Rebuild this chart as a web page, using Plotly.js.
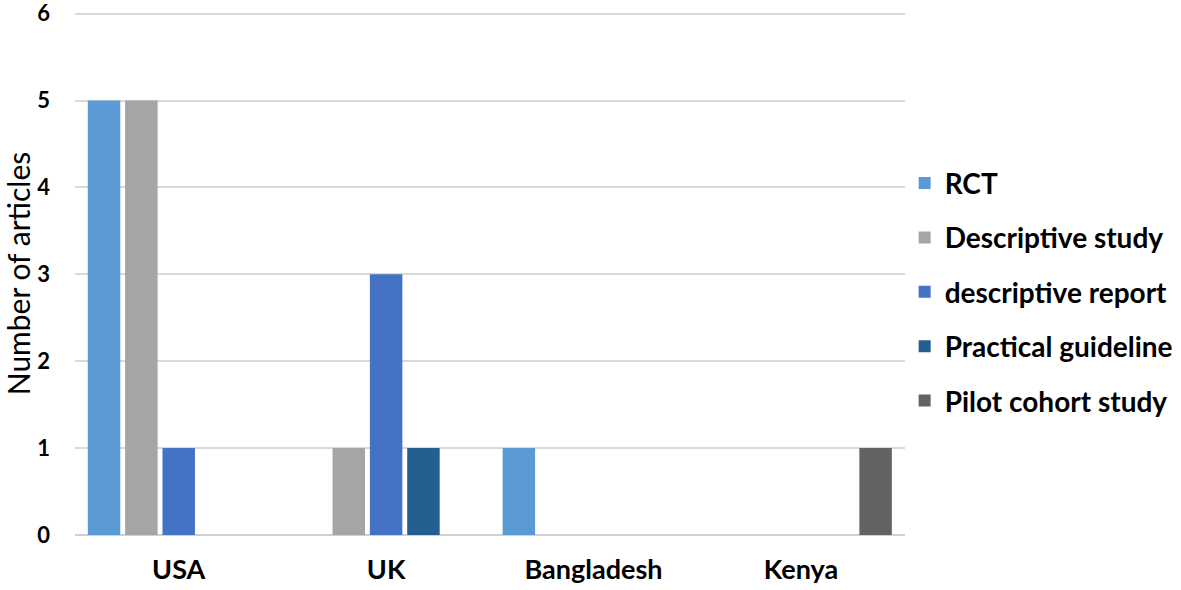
<!DOCTYPE html>
<html>
<head>
<meta charset="utf-8">
<script src="https://cdn.plot.ly/plotly-3.0.1.min.js"></script>
<style>
  body { margin: 0; background: #fff; }
  #chart { width: 1181px; height: 590px; }
</style>
</head>
<body>
<div id="chart"></div>
<script>
// countries on the x axis
const countries = ['USA', 'UK', 'Bangladesh', 'Kenya'];

// number of articles per study type
const rct = [5, 0, 1, 0];
const descriptiveStudy = [5, 1, 0, 0];
const descriptiveReport = [1, 3, 0, 0];
const practicalGuideline = [0, 1, 0, 0];
const pilotCohort = [0, 0, 0, 1];

const seriesNames = ['RCT', 'Descriptive study', 'descriptive report', 'Practical guideline', 'Pilot cohort study'];
const seriesValues = [rct, descriptiveStudy, descriptiveReport, practicalGuideline, pilotCohort];
const seriesColors = ['#5b9bd5', '#a5a5a5', '#4472c4', '#255e91', '#636363'];

const font = 'Lato, "Open Sans", "Liberation Sans", sans-serif';

const traces = seriesNames.map((name, i) => ({
    type: 'bar',
    name: name,
    x: countries,
    y: seriesValues[i],
    legendgroup: 'g' + i,
    marker: {color: seriesColors[i], line: {width: 0}},
    hoverinfo: 'x+y+name'
}));

const layout = {
    width: 1181,
    height: 590,
    margin: {l: 75, r: 276, t: 12, b: 55},
    paper_bgcolor: '#fff',
    plot_bgcolor: '#fff',
    barmode: 'group',
    bargap: 0.1,
    bargroupgap: 0.13,
    font: {family: font, color: '#000'},
    xaxis: {
        showgrid: false,
        showline: false,
        zeroline: false,
        ticks: '',
        tickfont: {size: 27, family: font, weight: 'bold'},
        ticklabelstandoff: 16
    },
    yaxis: {
        range: [0, 6.02],
        tickvals: [0, 1, 2, 3, 4, 5, 6],
        showgrid: true,
        gridcolor: '#d9d9d9',
        gridwidth: 2,
        zeroline: true,
        zerolinecolor: '#d0d0d0',
        zerolinewidth: 2,
        showline: false,
        ticks: '',
        ticklabeloverflow: 'allow',
        tickfont: {size: 22, family: font, weight: 'bold'},
        ticklabelstandoff: 24,
        title: {text: 'Number of articles', font: {size: 30, family: font}, standoff: 2}
    },
    legend: {
        xref: 'container',
        x: 0.766,
        xanchor: 'left',
        y: 0.465,
        yanchor: 'middle',
        font: {size: 28, family: font, weight: 'bold'},
        tracegroupgap: 15,
        itemwidth: 30
    },
    showlegend: true
};

Plotly.newPlot('chart', traces, layout, {displayModeBar: false});
</script>
</body>
</html>
